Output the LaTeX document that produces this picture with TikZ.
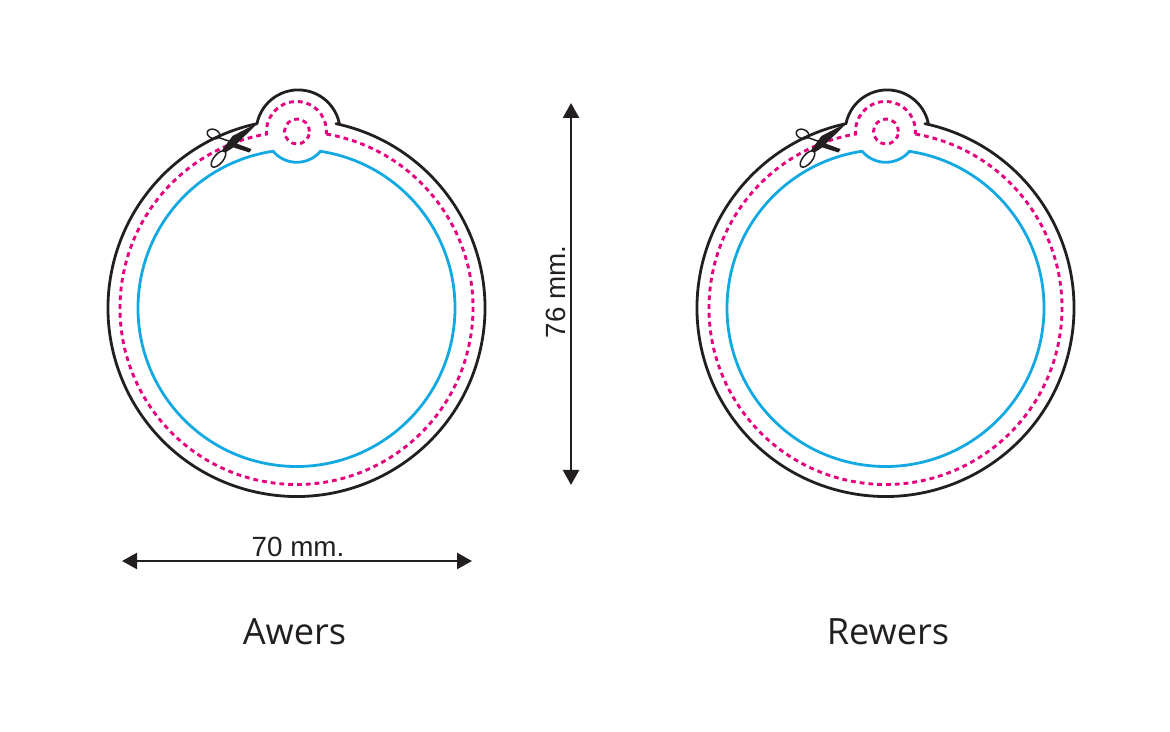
\documentclass[tikz,border=0pt]{standalone}
\usepackage{fontspec}
\setmainfont{Liberation Sans}
\newfontfamily\capfont{Open Sans}
\usetikzlibrary{arrows.meta}
\definecolor{ink}{HTML}{231F20}
\definecolor{cutpink}{HTML}{E5007E}
\definecolor{safeblue}{HTML}{12A9E2}
\tikzset{
  x=1pt,y=1pt,
  outline/.style={draw=ink,line width=2.8pt,line join=round},
  cutline/.style={draw=cutpink,line width=2.9pt,dash pattern=on 4.8pt off 4pt},
  safeline/.style={draw=safeblue,line width=2.8pt,line join=round},
  dimarrow/.style={draw=ink,line width=2.4pt,{Triangle[length=15pt,width=16pt]}-{Triangle[length=15pt,width=16pt]}},
  dimlabel/.style={text=ink,font=\fontsize{27.8}{30}\selectfont,inner sep=0pt},
  sidelabel/.style={text=ink,font=\capfont\fontsize{36.2}{40}\selectfont,inner sep=0pt},
  medal/.pic={
    % outer contour
    \draw[outline] (77.9:188.5) arc[start angle=77.9,end angle=-257.9,radius=188.5]
      arc[start angle=168.7,end angle=11.3,radius=42] -- cycle;
    % dotted line
    \draw[cutline] (80.25:176.5) arc[start angle=80.25,end angle=-260.25,radius=176.5]
      arc[start angle=184.9,end angle=-4.9,radius=30] -- cycle;
    \draw[cutline] (0.5,176.5) circle[radius=12.5];
    % inner blue line
    \draw[safeline] (81.5:158.5) arc[start angle=81.5,end angle=-261.5,radius=158.5]
      arc[start angle=-140,end angle=-40,radius=31] -- cycle;
    % scissors
    \fill[ink] (-38,185.5) -- (-64,172) -- (-75,157) -- (-71,155.5) -- (-64,160) -- cycle;
    \draw[ink,line width=1.5pt,rotate around={50:(-78,149)}] (-78,149) ellipse[x radius=10,y radius=4.6];
    \draw[ink,line width=1.5pt] (-78,170.5) -- (-62,165);
    \fill[ink] (-64,166) -- (-45,158.9) -- (-47,155.5) -- (-63,160.5) -- cycle;
    \draw[ink,line width=1.5pt,rotate around={-20:(-83,174)}] (-83,174) ellipse[x radius=6.5,y radius=4.6];
  }
}
\begin{document}
\begin{tikzpicture}
\useasboundingbox (0,0) rectangle (1170,731);
\pic at (296.5,423) {medal};
\pic at (885.5,423) {medal};
\coordinate (hl) at (122,170);
\coordinate (hr) at (472,170);
\coordinate (vt) at (571,628);
\coordinate (vb) at (571,246);
\draw[dimarrow] (hl) -- (hr);
\draw[dimarrow] (vt) -- (vb);
\node[dimlabel,anchor=base] (w) at (298,174.5) {70 mm.};
\node[dimlabel,anchor=base,rotate=90] (h) at (565,439) {76 mm.};
\node[sidelabel,anchor=base] (a) at (294.5,86.5) {Awers};
\node[sidelabel,anchor=base] (r) at (888,86.5) {Rewers};
\end{tikzpicture}
\end{document}
